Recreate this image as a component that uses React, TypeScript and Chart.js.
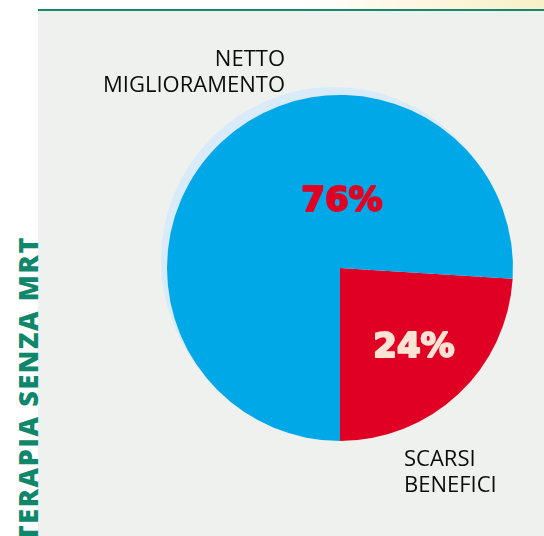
import React, { useEffect, useRef } from "react";
import { Chart, registerables } from "chart.js";

Chart.register(...registerables);

const categories = ["SCARSI BENEFICI", "NETTO MIGLIORAMENTO"];
const values = [24, 76];
const sliceColors = ["#e00024", "#00a8e8"];
const labelColors = ["#fde3d4", "#e00024"];
const sideTitle = "TERAPIA SENZA MRT";

const W = 544;
const H = 536;

export default function App() {
  const ref = useRef<HTMLCanvasElement | null>(null);

  useEffect(() => {
    document.body.style.margin = "0";
    const canvas = ref.current;
    if (!canvas) return;

    const haloPlugin = {
      id: "halo",
      beforeDatasetsDraw(chart: any) {
        const meta = chart.getDatasetMeta(0);
        const arc = meta.data[0];
        if (!arc) return;
        const { x, y, outerRadius } = arc;
        const ctx = chart.ctx;
        ctx.save();
        ctx.beginPath();
        ctx.arc(x - 6, y - 8, outerRadius, 0, Math.PI * 2);
        ctx.fillStyle = "#d9ebf8";
        ctx.fill();
        ctx.restore();
      },
    };

    const labelPlugin = {
      id: "pctLabels",
      afterDatasetsDraw(chart: any) {
        const meta = chart.getDatasetMeta(0);
        const ctx = chart.ctx;
        const offsets = [
          [74, 80],
          [2, -66],
        ];
        meta.data.forEach((arc: any, i: number) => {
          const r = arc.outerRadius;
          const tx = arc.x + (offsets[i][0] * r) / 173;
          const ty = arc.y + (offsets[i][1] * r) / 173;
          ctx.save();
          ctx.font = "bold 34px 'DejaVu Sans', sans-serif";
          ctx.fillStyle = labelColors[i];
          ctx.strokeStyle = labelColors[i];
          ctx.lineWidth = 2;
          ctx.lineJoin = "round";
          ctx.textAlign = "center";
          ctx.textBaseline = "middle";
          ctx.strokeText(values[i] + "%", tx, ty);
          ctx.fillText(values[i] + "%", tx, ty);
          ctx.restore();
        });
      },
    };

    const chart = new Chart(canvas, {
      type: "pie",
      data: {
        labels: categories,
        datasets: [
          {
            data: values,
            backgroundColor: sliceColors,
            borderWidth: 0,
          },
        ],
      },
      options: {
        animation: false,
        responsive: false,
        rotation: 93.6,
        layout: { padding: { left: 167, right: 31, top: 95, bottom: 95 } },
        plugins: {
          legend: { display: false },
          tooltip: { enabled: false },
        },
      },
      plugins: [haloPlugin, labelPlugin],
    });
    return () => chart.destroy();
  }, []);

  const annot: React.CSSProperties = {
    position: "absolute",
    fontFamily: "'Open Sans', 'DejaVu Sans', sans-serif",
    fontSize: 22,
    lineHeight: "26px",
    color: "#0c0c0c",
  };

  return (
    <div style={{ position: "relative", width: W, height: H, overflow: "hidden", background: "#ffffff" }}>
      <div
        style={{
          position: "absolute",
          left: 300,
          top: 0,
          width: 244,
          height: 9,
          background: "linear-gradient(90deg, rgba(253,249,232,0) 0%, #fdf8e6 40%, #f8f0c8 100%)",
        }}
      />
      <div style={{ position: "absolute", left: 38, top: 9, right: 0, bottom: 0, background: "#eff1ee" }} />
      <div style={{ position: "absolute", left: 38, top: 9, right: 0, height: 2, background: "#12896c" }} />
      <div
        style={{
          position: "absolute",
          left: 28,
          top: 236,
          transformOrigin: "0 0",
          transform: "translate(-14px, 0) rotate(-90deg) translate(-330px, 0)",
          width: 330,
          height: 28,
          textAlign: "right",
          whiteSpace: "nowrap",
          fontFamily: "'Open Sans', 'DejaVu Sans', sans-serif",
          fontWeight: 800,
          fontSize: 27,
          lineHeight: "28px",
          color: "#10876a",
          letterSpacing: 1.6,
        }}
      >
        {sideTitle}
      </div>
      <canvas ref={ref} width={W} height={H} style={{ position: "absolute", left: 0, top: 0 }} />
      <div style={{ ...annot, right: W - 285, top: 44, textAlign: "right" }}>
        NETTO
        <br />
        MIGLIORAMENTO
      </div>
      <div style={{ ...annot, left: 404, top: 444, textAlign: "left" }}>
        SCARSI
        <br />
        BENEFICI
      </div>
    </div>
  );
}
